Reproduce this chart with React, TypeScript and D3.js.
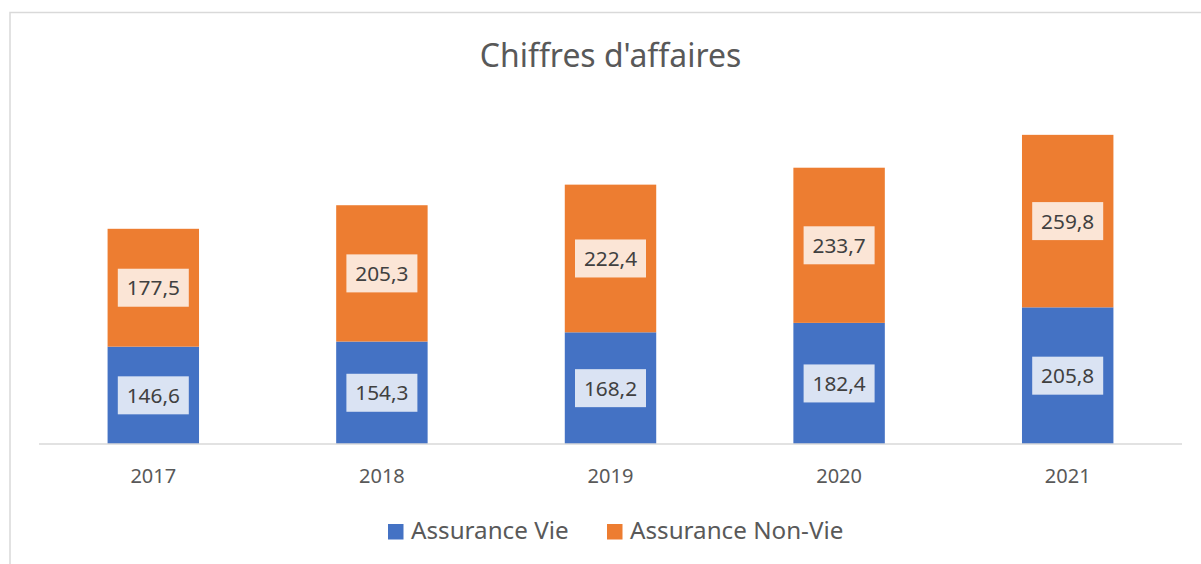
import React from "react";
import * as d3 from "d3";

const categories = ["2017", "2018", "2019", "2020", "2021"];
const vieValues = [146.6, 154.3, 168.2, 182.4, 205.8];
const nonVieValues = [177.5, 205.3, 222.4, 233.7, 259.8];
const seriesNames = ["Assurance Vie", "Assurance Non-Vie"];
const title = "Chiffres d'affaires";

const W = 1201;
const H = 564;
const FONT = "'Noto Sans', 'Open Sans', sans-serif";
const COLORS = ["#4472C4", "#ED7D31"];
const LABEL_BG = ["#DAE3F3", "#FBE5D6"];

export default function App() {
  const x = d3.scaleBand<string>().domain(categories).range([39, 1182]).paddingInner(0.6).paddingOuter(0.3);
  const y = d3.scaleLinear().domain([0, 500]).range([444, 112]);

  const rows = categories.map((c, i) => ({ cat: c, vie: vieValues[i], nonVie: nonVieValues[i] }));
  const stack = d3.stack<any>().keys(["vie", "nonVie"]);
  const series = stack(rows);

  const fmt = (v: number) => v.toFixed(1).replace(".", ",");

  return (
    <svg width={W} height={H} style={{ position: "absolute", left: 0, top: 0, background: "#fff" }}>
      <rect x={10} y={12.5} width={W + 20} height={H + 20} fill="#fff" stroke="#D9D9D9" strokeWidth={1.5} />
      <text x={610.5} y={66.5} textAnchor="middle" fontFamily={FONT} fontSize={31.9} fill="#595959">
        {title}
      </text>
      {series.map((s, si) => (
        <g key={si}>
          {s.map((d, i) => (
            <rect
              key={i}
              x={x(categories[i])}
              y={y(d[1])}
              width={x.bandwidth()}
              height={y(d[0]) - y(d[1])}
              fill={COLORS[si]}
            />
          ))}
        </g>
      ))}
      <line x1={39} x2={1182} y1={444} y2={444} stroke="#D9D9D9" strokeWidth={1.5} />
      {series.map((s, si) => (
        <g key={"l" + si}>
          {s.map((d, i) => {
            const cx = (x(categories[i]) as number) + x.bandwidth() / 2;
            const cy = (y(d[0]) + y(d[1])) / 2;
            return (
              <g key={i}>
                <rect x={cx - 35.5} y={cy - 19} width={71} height={38} fill={LABEL_BG[si]} />
                <text x={cx} y={cy} dy="0.36em" textAnchor="middle" fontFamily={FONT} fontSize={20.8} fill="#404040">
                  {fmt(d[1] - d[0])}
                </text>
              </g>
            );
          })}
        </g>
      ))}
      {categories.map((c) => (
        <text
          key={c}
          x={(x(c) as number) + x.bandwidth() / 2}
          y={483.3}
          textAnchor="middle"
          fontFamily={FONT}
          fontSize={20}
          fill="#595959"
        >
          {c}
        </text>
      ))}
      {seriesNames.map((n, i) => {
        const lx = [388, 607][i];
        return (
          <g key={n}>
            <rect x={lx} y={524} width={15.5} height={15.5} fill={COLORS[i]} />
            <text x={lx + 23} y={539.3} fontFamily={FONT} fontSize={24.2} fill="#595959">
              {n}
            </text>
          </g>
        );
      })}
    </svg>
  );
}
